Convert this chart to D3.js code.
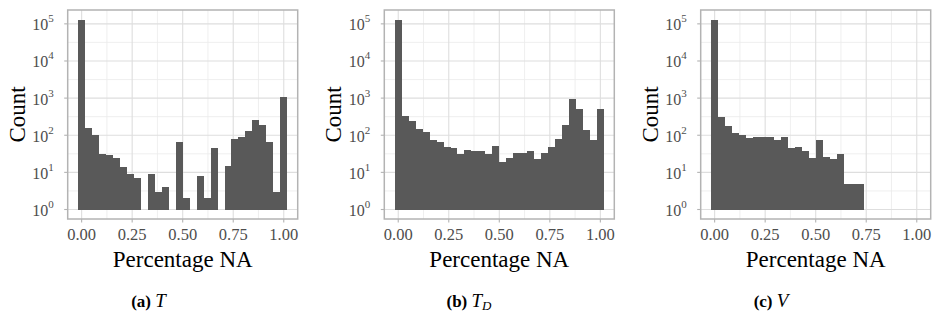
<!DOCTYPE html>
<html>
<head>
<meta charset="utf-8">
<script src="https://cdn.jsdelivr.net/npm/d3@7"></script>
<style>
  body { margin: 0; background: #fff; }
  svg { display: block; }
  svg text { font-family: "Liberation Serif", "Times New Roman", "DejaVu Serif", Times, serif; }
</style>
</head>
<body>
<div class="chart"></div>
<script>
// histogram counts per bin, bin i is centred on i / 29 (0 = empty bin)
const countsT = [131000, 157, 100, 31, 29, 24, 14, 9, 7, 0, 9, 3, 4, 0, 65, 2, 0, 8, 2, 45, 0, 15, 78, 88, 128, 251, 185, 65, 3, 1046];
const countsTD = [131000, 323, 237, 144, 120, 73, 65, 47, 45, 31, 39, 37, 37, 31, 50, 19, 25, 33, 33, 37, 23, 33, 47, 78, 185, 925, 498, 136, 73, 498];
const countsV = [131000, 309, 173, 117, 99, 83, 88, 88, 88, 73, 88, 45, 47, 37, 24, 73, 26, 23, 31, 5, 5, 5];

const xTicks = [0, 0.25, 0.5, 0.75, 1];
const xTickLabels = ['0.00', '0.25', '0.50', '0.75', '1.00'];
const xMinorTicks = [0.125, 0.375, 0.625, 0.875];
const yTickExps = [0, 1, 2, 3, 4, 5];
const yMinorExps = [0.5, 1.5, 2.5, 3.5, 4.5];

const captionTags = ['(a)', '(b)', '(c)'];
const captionSymbols = ['T', 'T', 'V'];
const captionSubs = ['', 'D', ''];
const seriesList = [countsT, countsTD, countsV];

const width = 933;
const height = 325;
const binWidth = 1 / 29;
const serif = '"Liberation Serif", "Times New Roman", "DejaVu Serif", serif';

function drawChart() {
  let svg = d3.select('.chart')
    .append('svg')
    .attr('width', width)
    .attr('height', height);

  const panelLefts = [67.7, 384.3, 700.7];
  const captionCenters = [148.5, 469, 771];

  seriesList.forEach((counts, i) => {
    drawPanel(svg, counts, panelLefts[i]);
    drawCaption(svg, i, captionCenters[i]);
  });
}

function drawPanel(svg, counts, left) {
  const panelW = 230;
  const top = 10;
  const bottom = 219;

  // ggplot style 5% expansion around the bars
  const xLo = -binWidth / 2, xHi = 1 + binWidth / 2;
  const xPad = (xHi - xLo) * 0.05;
  let xScale = d3.scaleLinear()
    .domain([xLo - xPad, xHi + xPad])
    .range([left, left + panelW]);

  const logMax = Math.log10(d3.max(counts));
  const yPad = logMax * 0.05;
  let yScale = d3.scaleLog()
    .domain([Math.pow(10, -yPad), Math.pow(10, logMax + yPad)])
    .range([bottom, top]);

  let g = svg.append('g');

  // grid
  g.selectAll('.xminor')
    .data(xMinorTicks)
    .enter()
    .append('line')
    .attr('x1', d => xScale(d)).attr('x2', d => xScale(d))
    .attr('y1', top).attr('y2', bottom)
    .style('stroke', '#ebebeb')
    .style('stroke-width', 0.8);
  g.selectAll('.yminor')
    .data(yMinorExps)
    .enter()
    .append('line')
    .attr('x1', left).attr('x2', left + panelW)
    .attr('y1', d => yScale(Math.pow(10, d))).attr('y2', d => yScale(Math.pow(10, d)))
    .style('stroke', '#ebebeb')
    .style('stroke-width', 0.8);
  g.selectAll('.xmajor')
    .data(xTicks)
    .enter()
    .append('line')
    .attr('x1', d => xScale(d)).attr('x2', d => xScale(d))
    .attr('y1', top).attr('y2', bottom)
    .style('stroke', '#dedede')
    .style('stroke-width', 1.1);
  g.selectAll('.ymajor')
    .data(yTickExps)
    .enter()
    .append('line')
    .attr('x1', left).attr('x2', left + panelW)
    .attr('y1', d => yScale(Math.pow(10, d))).attr('y2', d => yScale(Math.pow(10, d)))
    .style('stroke', '#dedede')
    .style('stroke-width', 1.1);

  // bars start at 10^0
  g.selectAll('.bar')
    .data(counts.map((c, i) => ({i: i, c: c})).filter(d => d.c > 0))
    .enter()
    .append('rect')
    .attr('x', d => xScale(d.i * binWidth - binWidth / 2))
    .attr('width', d => xScale(d.i * binWidth + binWidth / 2) - xScale(d.i * binWidth - binWidth / 2))
    .attr('y', d => yScale(d.c))
    .attr('height', d => yScale(1) - yScale(d.c))
    .style('fill', '#595959')
    .style('shape-rendering', 'crispEdges');

  // border
  g.append('rect')
    .attr('x', left).attr('y', top)
    .attr('width', panelW).attr('height', bottom - top)
    .style('fill', 'none')
    .style('stroke', '#b3b3b3')
    .style('stroke-width', 1.5);

  // x axis ticks + labels
  g.selectAll('.xtick')
    .data(xTicks)
    .enter()
    .append('line')
    .attr('x1', d => xScale(d)).attr('x2', d => xScale(d))
    .attr('y1', bottom).attr('y2', bottom + 3.5)
    .style('stroke', '#b3b3b3')
    .style('stroke-width', 1.1);
  g.selectAll('.xlabel')
    .data(xTicks)
    .enter()
    .append('text')
    .attr('x', d => xScale(d))
    .attr('y', 240)
    .attr('text-anchor', 'middle')
    .attr('font-family', serif)
    .style('font-size', '16.5px')
    .style('fill', '#4d4d4d')
    .text((d, i) => xTickLabels[i]);

  // y axis ticks + labels (10^k)
  g.selectAll('.ytick')
    .data(yTickExps)
    .enter()
    .append('line')
    .attr('x1', left - 3.5).attr('x2', left)
    .attr('y1', d => yScale(Math.pow(10, d))).attr('y2', d => yScale(Math.pow(10, d)))
    .style('stroke', '#b3b3b3')
    .style('stroke-width', 1.1);
  let ylab = g.selectAll('.ylabel')
    .data(yTickExps)
    .enter()
    .append('text')
    .attr('x', left - 14)
    .attr('y', d => yScale(Math.pow(10, d)) + 6.5)
    .attr('text-anchor', 'end')
    .attr('font-family', serif)
    .style('font-size', '16px')
    .style('fill', '#4d4d4d');
  ylab.append('tspan').text('10');
  ylab.append('tspan')
    .attr('dy', -8)
    .style('font-size', '11px')
    .text(d => d);

  // axis titles
  g.append('text')
    .attr('x', left + panelW / 2)
    .attr('y', 266.5)
    .attr('text-anchor', 'middle')
    .attr('font-family', serif)
    .style('font-size', '23px')
    .text('Percentage NA');
  g.append('text')
    .attr('transform', `translate(${left - 43}, ${(top + bottom) / 2}) rotate(-90)`)
    .attr('text-anchor', 'middle')
    .attr('font-family', serif)
    .style('font-size', '23px')
    .text('Count');
}

function drawCaption(svg, i, cx) {
  let t = svg.append('text')
    .attr('x', cx)
    .attr('y', 306.5)
    .attr('text-anchor', 'middle')
    .attr('font-family', serif)
    .style('font-size', '17px');
  t.append('tspan')
    .style('font-weight', 'bold')
    .text(captionTags[i] + ' ');
  t.append('tspan')
    .style('font-style', 'italic')
    .style('font-size', '19px')
    .text(captionSymbols[i]);
  if (captionSubs[i] !== '') {
    t.append('tspan')
      .attr('dy', 3)
      .style('font-style', 'italic')
      .style('font-size', '13px')
      .text(captionSubs[i]);
  }
}

drawChart();
</script>
</body>
</html>
